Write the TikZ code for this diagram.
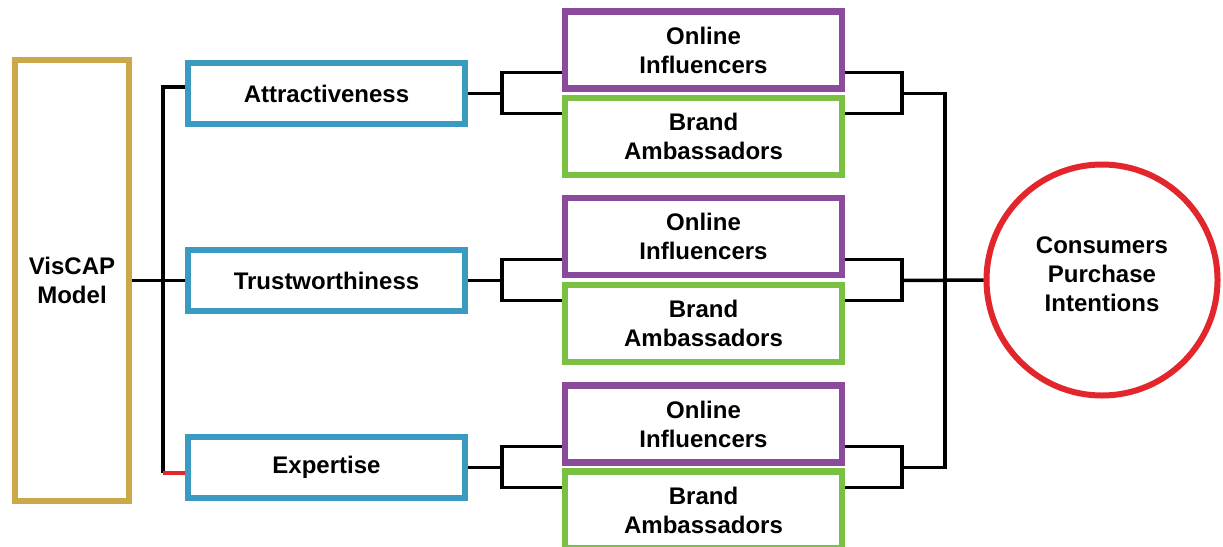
\documentclass[tikz,border=0pt]{standalone}
\usepackage{fontspec}
\setmainfont{Liberation Sans}
\definecolor{cgold}{HTML}{CCA84A}
\definecolor{cblue}{HTML}{3A9AC0}
\definecolor{cpurple}{HTML}{8B4A9C}
\definecolor{cgreen}{HTML}{7AC143}
\definecolor{cred}{HTML}{E2262B}
\begin{document}
\begin{tikzpicture}[x=1pt,y=-1pt,
  lbl/.style={align=center, font=\fontsize{24}{29}\selectfont\bfseries, inner sep=0pt},
  box/.style={lbl, draw, line width=6.5pt, fill=white},
  cause/.style={box, draw=cblue, minimum width=277pt, minimum height=61pt},
  infl/.style={box, draw=cpurple, minimum width=277pt, minimum height=77pt},
  amb/.style={box, draw=cgreen, minimum width=277pt, minimum height=77pt},
  wire/.style={line width=3.5pt}]
\useasboundingbox (0,0) rectangle (1223,546);

\coordinate (lbT) at (163,87);
\coordinate (lbB) at (163,473);
\coordinate (rbT) at (945,93.5);
\coordinate (rbB) at (945,467.5);

% nodes
\node[box, draw=cgold, line width=6pt, minimum width=114pt, minimum height=441pt] (vis) at (72,280.5) {VisCAP\\Model};
\node[cause] (attr) at (326.5,93.5) {Attractiveness};
\node[cause] (trust) at (326.5,280.5) {Trustworthiness};
\node[cause] (exp) at (326.5,467.5) {Expertise};

\node[infl] (oi1) at (703.5,50) {Online\\Influencers};
\node[amb] (ba1) at (703.5,136.5) {Brand\\Ambassadors};
\node[infl] (oi2) at (703.5,236.5) {Online\\Influencers};
\node[amb] (ba2) at (703.5,323.5) {Brand\\Ambassadors};
\node[infl] (oi3) at (703.5,424) {Online\\Influencers};
\node[amb] (ba3) at (703.5,510) {Brand\\Ambassadors};

\node[draw=cred, line width=6pt, circle, minimum size=231pt, inner sep=0pt, fill=white] (cpi) at (1102,280) {};
\node[lbl] (cpitext) at (1102,274) {Consumers\\Purchase\\Intentions};

% left bus
\draw[wire] (vis.east) -- (trust.west);
\draw[wire] (lbT -| attr.west) -- (lbT) -- (lbB);
\draw[wire, cred] (lbB) -- (lbB -| exp.west);

% groups
\foreach \c/\i/\g in {attr/1/93.5, trust/2/280.5, exp/3/467.5} {
  \coordinate (a\i) at (502,{\g-21});
  \coordinate (b\i) at (502,{\g+20});
  \coordinate (c\i) at (902,{\g-21});
  \coordinate (d\i) at (902,{\g+20});
  \draw[wire] (\c.east) -- (a\i |- \c.east);
  \draw[wire] (a\i -| oi\i.west) -- (a\i) -- (b\i) -- (b\i -| ba\i.west);
  \draw[wire] (c\i -| oi\i.east) -- (c\i) -- (d\i) -- (d\i -| ba\i.east);
}

% right bus
\draw[wire] (c1 |- attr) -- (rbT) -- (rbB) -- (c3 |- exp);
\draw[wire] (c2 |- trust) -- (cpi.west);
\end{tikzpicture}
\end{document}
